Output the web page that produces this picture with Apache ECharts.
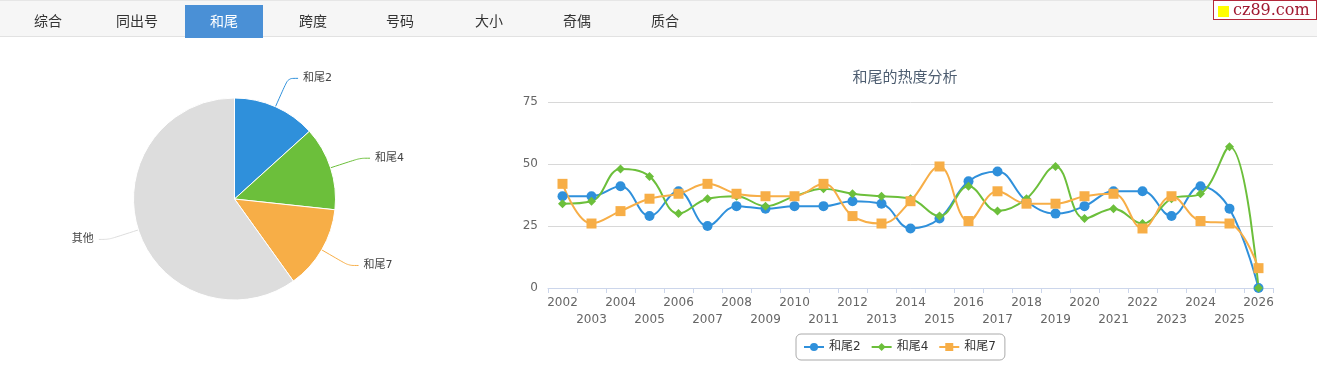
<!DOCTYPE html>
<html>
<head>
<meta charset="utf-8">
<script src="https://cdn.jsdelivr.net/npm/echarts@6/dist/echarts.min.js"></script>
<style>
html,body{margin:0;padding:0;width:1317px;height:383px;background:#fff;overflow:hidden;font-family:"Noto Sans CJK SC",sans-serif;}
#tabs{position:absolute;left:0;top:0;width:1317px;height:37px;background:#f6f6f6;border-top:1px solid #e6e6e6;border-bottom:1px solid #e2e2e2;box-sizing:border-box;}
.tab{position:absolute;top:4px;height:33px;width:78px;line-height:31px;text-align:center;font-size:14px;color:#333;}
.tab.active{background:#4a90d6;color:#fff;}
#logo{position:absolute;left:1213px;top:0px;width:104px;height:20px;border:1px solid #b3283a;background:#fff;box-sizing:border-box;}
#logo .sq{position:absolute;left:4px;top:5px;width:11px;height:11px;background:#ffff00;}
#logo .tx{position:absolute;left:19px;top:-1px;font-family:"DejaVu Serif","Liberation Serif",serif;font-size:16px;line-height:19px;color:#a01830;}
#chart{position:absolute;left:0;top:0;width:1317px;height:383px;}
</style>
</head>
<body>
<div id="chart"></div>
<div id="tabs"></div>
<div id="logo"><div class="sq"></div><div class="tx">cz89.com</div></div>
<script>
// ---- data ----
const tabNames = ['综合','同出号','和尾','跨度','号码','大小','奇偶','质合'];
const tabCenters = [48,137,224,313,400,489,577,665];
const activeTab = 2;

const years = ['2002','2003','2004','2005','2006','2007','2008','2009','2010','2011','2012','2013','2014','2015','2016','2017','2018','2019','2020','2021','2022','2023','2024','2025','2026'];
const seriesNames = ['和尾2','和尾4','和尾7'];
const hw2 = [37,37,41,29,39,25,33,32,33,33,35,34,24,28,43,47,35,30,33,39,39,29,41,32,0];
const hw4 = [34,35,48,45,30,36,37,33,37,40,38,37,36,29,41,31,36,49,28,32,26,36,38,57,0];
const hw7 = [42,26,31,36,38,42,38,37,37,42,29,26,35,49,27,39,34,34,37,38,24,37,27,26,8];
const yTicks = [0,25,50,75];

const pieNames = ['和尾2','和尾4','和尾7','其他'];
const pieValues = [13.3,13.4,13.4,59.9];

const colors = ['#2f90db','#6cbf3b','#f7ae47','#dddddd'];
const titleText = '和尾的热度分析';

// ---- tabs ----
const tabsEl = document.getElementById('tabs');
tabNames.forEach((n,i)=>{
  const d = document.createElement('div');
  d.className = 'tab' + (i===activeTab?' active':'');
  d.style.left = (tabCenters[i]-39)+'px';
  d.textContent = n;
  tabsEl.appendChild(d);
});

// ---- chart ----
const font = "Verdana, 'DejaVu Sans', 'Noto Sans CJK SC', sans-serif";
const chart = echarts.init(document.getElementById('chart'));
const symbols = ['circle','diamond','rect'];
const symbolSizes = [10,9,10];
const lineData = [hw2,hw4,hw7];

chart.setOption({
  animation:false,
  textStyle:{fontFamily:font},
  title:{
    text:titleText, left:900, top:64, textAlign:'center',
    textStyle:{fontSize:15,fontWeight:'normal',color:'#4d5d70',fontFamily:"'Noto Sans CJK SC',sans-serif"}
  },
  legend:{
    data:seriesNames, left:796, top:334,
    borderColor:'#aaaaaa', borderWidth:1, borderRadius:5,
    padding:[7,9,7,7], itemGap:10, itemWidth:20, itemHeight:10,
    textStyle:{fontSize:12,color:'#333',fontFamily:font}
  },
  grid:{left:548,right:44,top:102,bottom:95,containLabel:false},
  xAxis:{
    type:'category', data:years, boundaryGap:true,
    axisLine:{lineStyle:{color:'#ccd6eb'}},
    axisTick:{show:true,length:5,lineStyle:{color:'#ccd6eb'},alignWithLabel:false},
    axisLabel:{
      interval:0, color:'#666', fontSize:12, margin:6, lineHeight:17,
      formatter:(v,i)=> i%2 ? '\n'+v : v
    }
  },
  yAxis:{
    type:'value', min:yTicks[0], max:yTicks[yTicks.length-1], interval:25,
    axisLine:{show:false}, axisTick:{show:false},
    axisLabel:{color:'#666',fontSize:12,margin:10},
    splitLine:{lineStyle:{color:'#d8d8d8',width:1}}
  },
  series:[
    ...seriesNames.map((n,i)=>({
      name:n, type:'line', data:lineData[i], smooth:0.4,
      symbol:symbols[i], symbolSize:symbolSizes[i],
      itemStyle:{color:colors[i]},
      lineStyle:{width:2,color:colors[i]}
    })),
    {
      type:'pie', center:[234.5,199], radius:[0,101],
      startAngle:90, clockwise:true,
      data:pieNames.map((n,i)=>({name:n,value:pieValues[i],itemStyle:{color:colors[i]}})),
      itemStyle:{borderColor:'#fff',borderWidth:1},
      label:{show:true,fontSize:11,color:'#444',fontFamily:font,distanceToLabelLine:5},
      labelLine:{show:true,length:31,length2:10,smooth:true,lineStyle:{width:1}},
      emphasis:{disabled:true}
    }
  ]
});
</script>
</body>
</html>
